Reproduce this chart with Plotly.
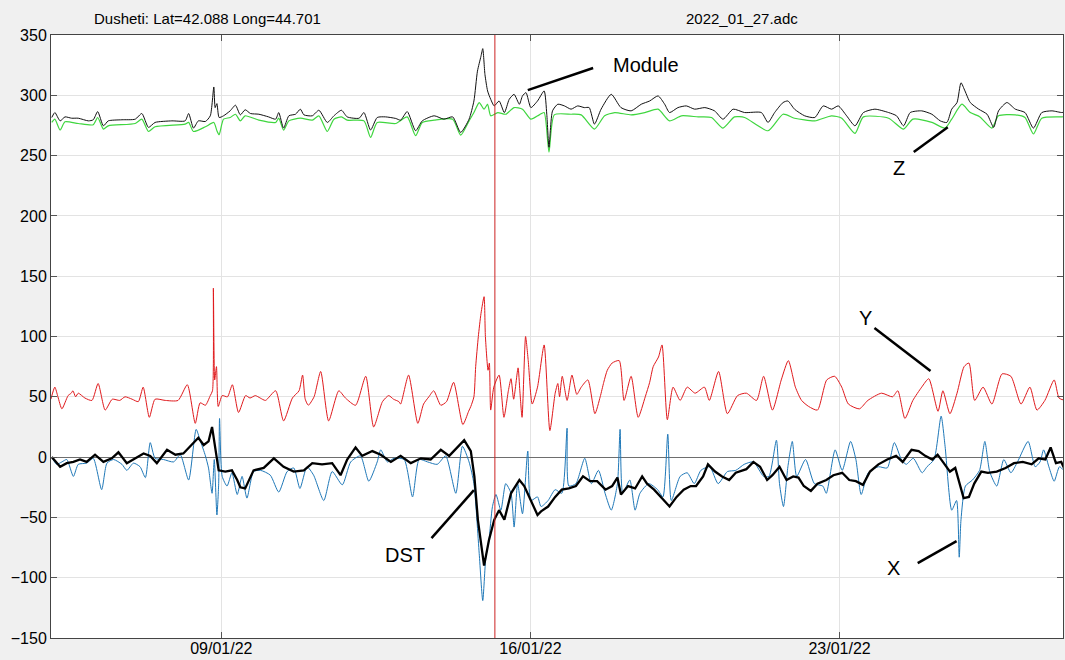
import numpy as np
import pandas as pd
import plotly.graph_objects as go

# ---------------- data (day of January 2022, value in nT) ----------------
MODULE = [(5.16, 281.6), (5.23, 285.7), (5.35, 278.8), (5.46, 282.1), (5.61, 281), (5.76, 281), (5.99, 278.8),
          (6.10, 279.7), (6.20, 286.5), (6.33, 274.7), (6.44, 278.8), (6.75, 279.7), (7.05, 280.2), (7.20, 284.9),
          (7.35, 273.4), (7.50, 277.5), (7.88, 278.8), (8.18, 278.8), (8.26, 284.9), (8.37, 272.8), (8.48, 278.8),
          (8.64, 278.3), (8.75, 283), (8.83, 306.9), (8.86, 289.8), (8.90, 293.1), (8.95, 281.6), (9.05, 283),
          (9.20, 287.1), (9.32, 291.8), (9.43, 283.8), (9.54, 288), (9.66, 284.9), (9.85, 284.3), (10.07, 282.1),
          (10.23, 280.2), (10.30, 285.7), (10.41, 272.8), (10.53, 283), (10.68, 284.3), (10.79, 288.5), (10.87, 283.8),
          (11.06, 283), (11.21, 287.6), (11.40, 277.5), (11.55, 283), (11.72, 287.6), (11.85, 282.1), (12.12, 281),
          (12.23, 285.7), (12.38, 271.2), (12.53, 281.6), (12.72, 282.1), (12.95, 280.8), (13.06, 279.4), (13.21, 286.5),
          (13.40, 270.6), (13.55, 278.8), (13.82, 283), (14.04, 280.2), (14.24, 282.1), (14.42, 269.2), (14.61, 280.2),
          (14.72, 295.3), (14.80, 320), (14.88, 332.4), (14.92, 338.7), (14.97, 317.3), (15.03, 303.6), (15.10, 296.7),
          (15.18, 291.2), (15.29, 295.3), (15.41, 285.7), (15.52, 296.7), (15.63, 300.8), (15.75, 292.6), (15.82, 299.5),
          (15.90, 302.2), (16.01, 289.8), (16.16, 295.3), (16.31, 303.6), (16.37, 284.3), (16.42, 256.9), (16.50, 287.1),
          (16.62, 292.6), (16.77, 291.2), (16.92, 288.5), (17.07, 291.2), (17.22, 289.8), (17.33, 289.8), (17.45, 276.1),
          (17.60, 288.5), (17.83, 300.8), (18.05, 289.8), (18.28, 287.1), (18.51, 292.6), (18.70, 295.3), (18.89, 299.5),
          (19.04, 292.6), (19.15, 285.7), (19.34, 289.8), (19.53, 291.2), (19.72, 288.5), (19.95, 289.8), (20.17, 287.1),
          (20.36, 280.2), (20.59, 288.5), (20.85, 285.7), (21.23, 285.7), (21.38, 277.5), (21.53, 285.7), (21.72, 294),
          (21.83, 295.3), (21.98, 288.5), (22.21, 283), (22.44, 281.6), (22.63, 291.2), (22.82, 288.5), (22.97, 291.2),
          (23.16, 283), (23.35, 274.7), (23.54, 285.7), (23.80, 288.5), (24.11, 285.7), (24.29, 283), (24.45, 274.7),
          (24.60, 285.7), (24.86, 287.1), (25.09, 284.3), (25.28, 278.8), (25.43, 277.5), (25.54, 288.5), (25.66, 294),
          (25.75, 310.4), (25.84, 303.6), (25.96, 294), (26.15, 288.5), (26.34, 284.3), (26.49, 273.4), (26.60, 287.1),
          (26.79, 294), (26.98, 288.5), (27.20, 285.7), (27.39, 272.8), (27.58, 285.7), (27.81, 287.1), (28.04, 285.7),
          (28.10, 286.5)]

Z_COMP = [(5.16, 277.5), (5.23, 280.2), (5.35, 271.2), (5.46, 278), (5.76, 276.6), (6.10, 275.6), (6.20, 281.6),
          (6.33, 272), (6.44, 274.7), (7.05, 276.6), (7.20, 280.2), (7.35, 270), (7.50, 273.9), (8.18, 276.1),
          (8.26, 277.5), (8.37, 270), (8.64, 273.9), (8.83, 277.5), (8.90, 270.6), (8.95, 267.3), (9.05, 280.2),
          (9.20, 281.6), (9.32, 284.3), (9.43, 278.8), (9.54, 283), (9.85, 279.4), (10.23, 277.5), (10.30, 281),
          (10.41, 271.2), (10.53, 278.8), (10.79, 281), (11.06, 279.4), (11.21, 283), (11.40, 270), (11.55, 280.2),
          (11.72, 282.1), (11.85, 279.4), (12.23, 278.8), (12.38, 265.1), (12.53, 277.5), (12.95, 276.6), (13.21, 282.1),
          (13.40, 266.5), (13.55, 277.5), (13.82, 279.4), (14.24, 280.2), (14.42, 267), (14.61, 278.8), (14.72, 285.7),
          (14.84, 294), (14.95, 288.5), (15.03, 292.6), (15.10, 283), (15.26, 285.7), (15.44, 284.3), (15.63, 289.8),
          (15.82, 288.5), (16.01, 280.2), (16.20, 283.8), (16.31, 285.7), (16.42, 252.8), (16.54, 283.8), (16.92, 284.3),
          (17.15, 283.8), (17.45, 272), (17.68, 283), (17.91, 285.7), (18.28, 283.8), (18.59, 285.7), (18.89, 288.5),
          (19.15, 278.8), (19.42, 283), (19.80, 282.1), (20.10, 281.6), (20.36, 272.8), (20.62, 282.1), (20.85, 281.6),
          (21.38, 270.6), (21.72, 284.3), (21.98, 281), (22.44, 278.8), (22.82, 283), (23.05, 281), (23.35, 268.4),
          (23.54, 282.1), (24.11, 281), (24.45, 272), (24.66, 280.2), (25.09, 277.5), (25.39, 272.8), (25.54, 280.2),
          (25.77, 292.6), (25.96, 285.7), (26.18, 282.1), (26.45, 272.8), (26.60, 283), (26.98, 283.8), (27.20, 281.6),
          (27.39, 267.9), (27.58, 281), (28.04, 282.1), (28.10, 282.5)]

Y_COMP = [(5.14, 48), (5.23, 58), (5.30, 50), (5.39, 40), (5.53, 51), (5.60, 53), (5.64, 55), (5.70, 50), (5.76, 53),
          (5.91, 49), (6.07, 47), (6.21, 61), (6.37, 39), (6.53, 48), (6.70, 47), (6.82, 50), (6.98, 48), (7.12, 46),
          (7.23, 58), (7.37, 33), (7.50, 48), (7.73, 47), (8.02, 47), (8.23, 60), (8.41, 28), (8.52, 45), (8.64, 43),
          (8.75, 51), (8.80, 55), (8.82, 140), (8.85, 64), (8.89, 75), (8.93, 42), (9.02, 51), (9.14, 50), (9.25, 60),
          (9.39, 37), (9.55, 51), (9.65, 49), (9.77, 51), (9.88, 49), (10.00, 47), (10.23, 55), (10.41, 30), (10.61, 49),
          (10.76, 55), (10.84, 68), (10.90, 48), (10.97, 43), (11.10, 50), (11.25, 71), (11.43, 30), (11.66, 55),
          (11.81, 49), (12.04, 43), (12.27, 67), (12.45, 25), (12.65, 46), (12.79, 51), (12.90, 48), (13.02, 46),
          (13.06, 44), (13.24, 68), (13.45, 28), (13.58, 44), (13.70, 50), (13.81, 55), (13.97, 43), (14.10, 46),
          (14.26, 62), (14.47, 27), (14.60, 38), (14.65, 42), (14.72, 50), (14.76, 75), (14.82, 100), (14.88, 119),
          (14.95, 133), (14.98, 100), (15.04, 72), (15.07, 78), (15.10, 39), (15.17, 58), (15.29, 68), (15.40, 33),
          (15.50, 55), (15.56, 65), (15.62, 48), (15.72, 74), (15.76, 55), (15.81, 33), (15.89, 100), (15.95, 80),
          (16.04, 44), (16.16, 58), (16.31, 93), (16.44, 22), (16.56, 53), (16.62, 61), (16.66, 50), (16.72, 67),
          (16.83, 47), (16.94, 68), (17.05, 52), (17.15, 58), (17.30, 64), (17.46, 36), (17.58, 50), (17.66, 62),
          (17.74, 72), (17.85, 78), (18.01, 80), (18.12, 47), (18.28, 67), (18.44, 33), (18.60, 50), (18.70, 62),
          (18.78, 75), (18.90, 83), (18.98, 93), (19.10, 31), (19.23, 58), (19.39, 47), (19.55, 58), (19.73, 53),
          (19.94, 58), (20.05, 47), (20.26, 71), (20.46, 36), (20.69, 51), (20.89, 53), (21.12, 47), (21.28, 67),
          (21.48, 39), (21.68, 64), (21.84, 80), (22.00, 58), (22.14, 47), (22.30, 42), (22.50, 39), (22.71, 64),
          (22.89, 67), (23.05, 58), (23.20, 44), (23.45, 40), (23.64, 47), (23.95, 53), (24.20, 50), (24.32, 55),
          (24.48, 32), (24.66, 47), (24.86, 58), (25.02, 65), (25.23, 38), (25.34, 55), (25.50, 36), (25.66, 53),
          (25.82, 75), (25.93, 78), (26.06, 47), (26.25, 58), (26.45, 44), (26.68, 69), (26.88, 67), (27.11, 44),
          (27.31, 58), (27.47, 39), (27.65, 47), (27.86, 64), (27.97, 49), (28.10, 47)]

X_COMP = [(5.16, 0), (5.27, -6), (5.39, -4), (5.50, -2), (5.65, -16), (5.76, -6), (5.95, -5), (6.10, -1), (6.29, -27),
          (6.41, -5), (6.56, -2), (6.75, -6), (6.86, -11), (7.01, -5), (7.16, -8), (7.28, -17), (7.39, 12), (7.50, -1),
          (7.69, -2), (7.92, -4), (8.07, 2), (8.26, -19), (8.43, 23), (8.52, 14), (8.64, 1), (8.71, -9), (8.79, -30),
          (8.84, -2), (8.90, -48), (8.94, -22), (8.96, 32), (9.02, -16), (9.13, -24), (9.24, -13), (9.36, -31),
          (9.47, -16), (9.58, -34), (9.73, -12), (9.89, -11), (10.11, -15), (10.30, -29), (10.49, -12), (10.64, -9),
          (10.78, -26), (10.94, -8), (11.09, -15), (11.32, -36), (11.51, -12), (11.74, -23), (11.93, -4), (12.15, 1),
          (12.34, -20), (12.53, -4), (12.61, 6), (12.76, -4), (12.91, -1), (13.14, -2), (13.33, -33), (13.48, -2),
          (13.67, -4), (13.89, -6), (14.08, 1), (14.31, -30), (14.46, 9), (14.61, -4), (14.72, -22), (14.84, -80),
          (14.92, -119), (14.99, -83), (15.06, -69), (15.14, -41), (15.22, -31), (15.33, -44), (15.44, -22), (15.56, -30),
          (15.63, -58), (15.71, -22), (15.82, -47), (15.94, 5), (16.01, -36), (16.16, -33), (16.24, -41), (16.40, -36),
          (16.56, -27), (16.71, -30), (16.83, 24), (16.87, -24), (17.03, -22), (17.23, -1), (17.38, -22), (17.54, -11),
          (17.69, -30), (17.83, -44), (17.97, -22), (18.03, 23), (18.09, -30), (18.25, -19), (18.37, -44), (18.48, -30),
          (18.68, -22), (18.88, -27), (19.00, -33), (19.11, 19), (19.19, -36), (19.39, -16), (19.55, -13), (19.71, -22),
          (19.86, -11), (20.06, -8), (20.25, -22), (20.46, -12), (20.65, -11), (20.84, -6), (21.05, -4), (21.28, -16),
          (21.40, -16), (21.57, 14), (21.64, -22), (21.73, -41), (21.83, -8), (21.93, 13), (22.03, -16), (22.23, -2),
          (22.43, -22), (22.62, -24), (22.70, -30), (22.90, 6), (23.06, -11), (23.25, 13), (23.37, -2), (23.49, -31),
          (23.65, -13), (23.88, -8), (24.08, -9), (24.24, 12), (24.40, -2), (24.51, -6), (24.67, -1), (24.87, -13),
          (24.98, -8), (25.14, -2), (25.30, 34), (25.39, 9), (25.54, -44), (25.65, -36), (25.71, -83), (25.75, -52),
          (25.85, -24), (26.01, -19), (26.17, -11), (26.29, 13), (26.40, -12), (26.56, -24), (26.72, -2), (26.88, -13),
          (27.03, -4), (27.27, 13), (27.43, -8), (27.54, -4), (27.62, 6), (27.74, -8), (27.86, -20), (27.98, -8),
          (28.10, -12)]

DST = [(5.16, 0), (5.35, -8), (5.50, -5), (5.65, -4), (5.80, -2), (5.95, -4), (6.14, 2), (6.33, -4), (6.52, -1),
       (6.67, 4), (6.86, -5), (7.05, -1), (7.24, 3), (7.39, 1), (7.54, -5), (7.77, 6), (7.96, 2), (8.14, 3), (8.30, 9),
       (8.48, 16), (8.60, 10), (8.71, 13), (8.79, 25), (8.86, 9), (8.94, -11), (9.09, -12), (9.24, -11), (9.36, -19),
       (9.43, -25), (9.54, -26), (9.73, -11), (9.96, -9), (10.19, -1), (10.41, -8), (10.64, -12), (10.87, -11),
       (11.06, -5), (11.28, -6), (11.51, -5), (11.70, -15), (11.85, -2), (12.04, 8), (12.19, 1), (12.42, 5), (12.61, 2),
       (12.84, -4), (13.06, 1), (13.29, -5), (13.52, -1), (13.74, -2), (13.97, 6), (14.16, 1), (14.35, 8), (14.50, 14),
       (14.65, 5), (14.73, -16), (14.81, -52), (14.88, -72), (14.95, -90), (15.06, -69), (15.18, -52), (15.29, -44),
       (15.41, -52), (15.56, -30), (15.75, -19), (15.86, -24), (16.01, -36), (16.16, -48), (16.24, -45), (16.40, -41),
       (16.56, -33), (16.71, -27), (16.87, -26), (17.03, -24), (17.19, -16), (17.35, -20), (17.51, -20), (17.70, -27),
       (17.85, -24), (17.97, -17), (18.05, -31), (18.21, -24), (18.37, -26), (18.53, -16), (18.64, -22), (18.80, -27),
       (19.00, -35), (19.15, -41), (19.31, -33), (19.47, -27), (19.63, -24), (19.75, -24), (19.91, -16), (20.02, -6),
       (20.18, -12), (20.34, -16), (20.50, -19), (20.65, -13), (20.89, -10), (21.05, -4), (21.20, -8), (21.36, -19),
       (21.48, -15), (21.64, -8), (21.80, -19), (21.95, -16), (22.07, -17), (22.19, -24), (22.35, -28), (22.50, -22),
       (22.70, -19), (22.86, -15), (23.06, -13), (23.22, -19), (23.37, -20), (23.53, -23), (23.69, -12), (23.88, -6),
       (24.08, -2), (24.28, 1), (24.43, -4), (24.63, 6), (24.79, 5), (24.94, 1), (25.10, -2), (25.22, 2), (25.34, -4),
       (25.50, -12), (25.62, -9), (25.70, -20), (25.81, -34), (25.93, -33), (26.05, -22), (26.21, -12), (26.36, -13),
       (26.56, -12), (26.76, -9), (26.95, -5), (27.15, -4), (27.35, -6), (27.51, -1), (27.66, -2), (27.78, 8),
       (27.90, -5), (28.02, -4), (28.12, -12)]

EVENT_DAY = 15.195                     # red vertical marker
X_RANGE_DAYS = [5.143, 28.06]
Y_TICKS = [-150, -100, -50, 0, 50, 100, 150, 200, 250, 300, 350]
X_TICK_DAYS = [9, 16, 23]
X_TICK_LABELS = ["09/01/22", "16/01/22", "23/01/22"]
TITLE_LEFT = "Dusheti: Lat=42.088 Long=44.701"
TITLE_RIGHT = "2022_01_27.adc"

# labels with leader lines: (text, text_day, text_val, line_from(day,val), line_to(day,val))
LABELS = [
    ("Module", 18.62, 325, (15.94, 304.3), (17.42, 322.6)),
    ("Z", 24.34, 239.6, (24.68, 252.9), (25.45, 273.6)),
    ("Y", 23.59, 115.3, (23.79, 107.0), (25.06, 71.3)),
    ("DST", 13.17, -81.3, (13.76, -67.2), (14.72, -27.4)),
    ("X", 24.22, -92.0, (24.77, -87.9), (25.65, -69.7)),
]

BASE = pd.Timestamp("2022-01-01")


def to_time(day):
    return BASE + pd.to_timedelta(np.asarray(day, dtype=float) - 1.0, unit="D")


def split(series):
    d, v = zip(*series)
    return to_time(d), list(v)


FONT = "Arial, 'Liberation Sans', sans-serif"
fig = go.Figure()

for series, color, width, shape in [(Z_COMP, "#3fd63f", 1.2, "spline"), (MODULE, "#111111", 1.0, "spline"),
                                    (Y_COMP, "#e0191c", 1.0, "spline"), (X_COMP, "#1f78b8", 1.0, "spline"),
                                    (DST, "#000000", 2.3, "linear")]:
    t, v = split(series)
    line = dict(color=color, width=width, shape=shape)
    if shape == "spline":
        line["smoothing"] = 0.6
    fig.add_trace(go.Scatter(x=t, y=v, mode="lines", line=line, showlegend=False, hoverinfo="skip"))

# red event marker
fig.add_shape(type="line", xref="x", yref="paper", x0=to_time(EVENT_DAY), x1=to_time(EVENT_DAY), y0=0, y1=1,
              line=dict(color="#cc2222", width=1))

for text, td, tv, p0, p1 in LABELS:
    fig.add_annotation(x=to_time(td), y=tv, text=text, showarrow=False,
                       font=dict(family=FONT, size=20, color="black"))
    fig.add_shape(type="line", x0=to_time(p0[0]), y0=p0[1], x1=to_time(p1[0]), y1=p1[1],
                  line=dict(color="black", width=2.5))

fig.add_annotation(xref="paper", yref="paper", x=0.155, y=1.0, yshift=17, text=TITLE_LEFT, showarrow=False,
                   font=dict(family=FONT, size=15, color="black"), xanchor="center", yanchor="middle")
fig.add_annotation(xref="paper", yref="paper", x=0.683, y=1.0, yshift=17, text=TITLE_RIGHT, showarrow=False,
                   font=dict(family=FONT, size=15, color="black"), xanchor="center", yanchor="middle")

fig.update_layout(
    width=1065, height=660,
    margin=dict(l=51, r=2, t=35, b=22, autoexpand=False),
    paper_bgcolor="#f0f0f0", plot_bgcolor="white",
    font=dict(family=FONT, size=16, color="black"),
    showlegend=False,
)
fig.update_xaxes(
    type="date", range=[to_time(X_RANGE_DAYS[0]), to_time(X_RANGE_DAYS[1])],
    tickvals=list(to_time(X_TICK_DAYS)), ticktext=X_TICK_LABELS,
    showgrid=True, gridcolor="#e3e3e3", gridwidth=1,
    ticks="inside", ticklen=6, tickcolor="#555555",
    showline=True, linecolor="#444444", linewidth=1, mirror="ticks",
    tickfont=dict(family=FONT, size=16), zeroline=False, automargin=False,
    ticklabelstandoff=-4,
)
fig.update_yaxes(
    range=[-150, 350], tickvals=Y_TICKS,
    showgrid=True, gridcolor="#e3e3e3", gridwidth=1,
    ticks="inside", ticklen=6, tickcolor="#555555",
    showline=True, linecolor="#444444", linewidth=1, mirror="ticks",
    zeroline=True, zerolinecolor="#6e6e6e", zerolinewidth=1.3,
    tickfont=dict(family=FONT, size=16), automargin=False,
)

fig.write_html("out.html", config={"displayModeBar": False},
               post_script="document.body.style.margin='0';")
